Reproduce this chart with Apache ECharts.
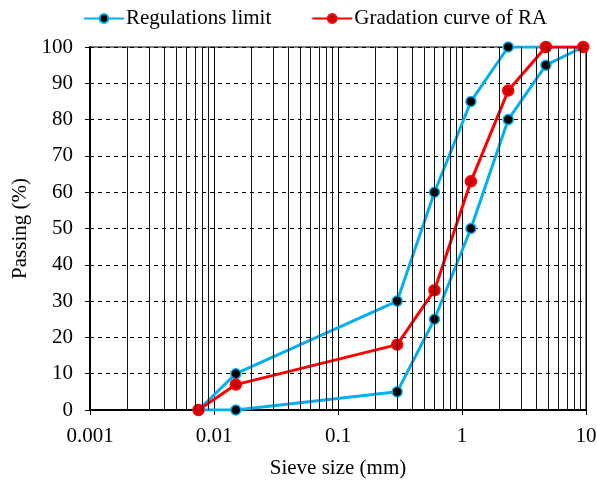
<!DOCTYPE html>
<html>
<head>
<meta charset="utf-8">
<script src="https://cdn.jsdelivr.net/npm/echarts@6/dist/echarts.min.js"></script>
<style>
  html, body { margin: 0; padding: 0; background: #fff; }
  #chart { width: 597px; height: 482px; }
</style>
</head>
<body>
<div id="chart"></div>
<script>
// limit envelope, drawn as one closed outline (upper curve then lower curve back)
const limitSizes = [0.0075, 0.015, 0.3, 0.6, 1.18, 2.36, 9.5, 4.75, 2.36, 1.18, 0.6, 0.3, 0.015, 0.0075];
const limitPassing = [0, 10, 30, 60, 85, 100, 100, 95, 80, 50, 25, 5, 0, 0];

const raSizes = [0.0075, 0.015, 0.3, 0.6, 1.18, 2.36, 4.75, 9.5];
const raPassing = [0, 7, 18, 33, 63, 88, 100, 100];

const decades = [0.001, 0.01, 0.1, 1];
const minorSteps = [2, 3, 4, 5, 6, 7, 8, 9];

const FONT = '"Liberation Serif", "Times New Roman", serif';
const FS = 21;
const BLUE = '#00b0f0';
const RED = '#ff0000';

// minor log grid lines (2..9 per decade), as vertical segments from 0 to 100
const minorLines = [];
decades.forEach((d) => {
  minorSteps.forEach((k) => {
    const x = +(d * k).toPrecision(3);
    minorLines.push([{ coord: [x, 0] }, { coord: [x, 100] }]);
  });
});

const zip = (xs, ys) => xs.map((x, i) => [x, ys[i]]);

const chart = echarts.init(document.getElementById('chart'), null, { renderer: 'canvas' });

chart.setOption({
  animation: false,
  textStyle: { fontFamily: FONT },
  legend: {
    top: 3,
    left: 78,
    itemGap: 40,
    itemWidth: 40,
    itemHeight: 11,
    data: ['Regulations limit', 'Gradation curve of RA'],
    textStyle: { fontFamily: FONT, fontSize: FS, color: '#000', padding: [0, 0, 0, -3] },
  },
  grid: {
    left: 90,
    right: 11,
    top: 47,
    bottom: 72,
    outerBoundsMode: 'none',
    containLabel: false,
    show: true,
    borderColor: '#000',
    borderWidth: 1,
    backgroundColor: 'transparent',
  },
  xAxis: {
    type: 'log',
    logBase: 10,
    min: 0.001,
    max: 10,
    name: 'Sieve size (mm)',
    nameLocation: 'middle',
    nameGap: 48,
    nameTextStyle: { fontFamily: FONT, fontSize: FS, color: '#000' },
    axisLine: { lineStyle: { color: '#000', width: 2 } },
    axisTick: { inside: false, length: 5, lineStyle: { color: '#000' } },
    axisLabel: {
      fontFamily: FONT,
      fontSize: FS,
      color: '#000',
      margin: 16,
      formatter: (v) => String(+v.toPrecision(3)),
    },
    splitLine: { show: true, lineStyle: { color: '#000', width: 1, type: 'solid' } },
  },
  yAxis: {
    type: 'value',
    min: 0,
    max: 100,
    interval: 10,
    name: 'Passing (%)',
    nameLocation: 'middle',
    nameGap: 54,
    nameTextStyle: { fontFamily: FONT, fontSize: FS, color: '#000' },
    axisLine: { show: true, lineStyle: { color: '#000', width: 2 } },
    axisTick: { show: true, inside: false, length: 5, lineStyle: { color: '#000' } },
    axisLabel: { fontFamily: FONT, fontSize: FS, color: '#000', margin: 17 },
    splitLine: { show: true, lineStyle: { color: '#000', width: 1, type: [4, 4] } },
  },
  series: [
    {
      name: 'minor grid',
      type: 'line',
      data: [],
      z: 1,
      silent: true,
      markLine: {
        silent: true,
        symbol: 'none',
        label: { show: false },
        animation: false,
        lineStyle: { color: '#111', width: 1, type: 'solid' },
        data: minorLines,
      },
    },
    {
      name: 'Regulations limit',
      type: 'line',
      z: 3,
      data: zip(limitSizes, limitPassing),
      symbol: 'circle',
      symbolSize: 10,
      lineStyle: { color: BLUE, width: 3 },
      itemStyle: { color: '#000', borderColor: BLUE, borderWidth: 1.5 },
    },
    {
      name: 'Gradation curve of RA',
      type: 'line',
      z: 4,
      data: zip(raSizes, raPassing),
      symbol: 'circle',
      symbolSize: 11,
      lineStyle: { color: RED, width: 3 },
      itemStyle: { color: '#d40000', borderColor: RED, borderWidth: 1.5 },
    },
  ],
});
</script>
</body>
</html>
